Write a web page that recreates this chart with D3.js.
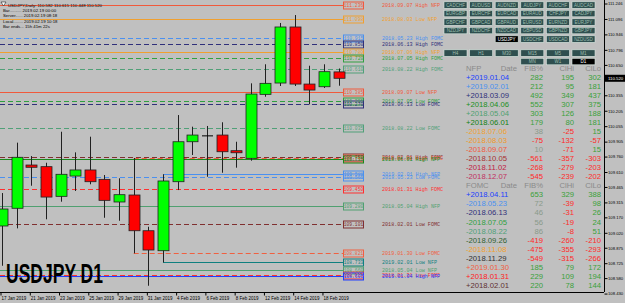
<!DOCTYPE html>
<html>
<head>
<meta charset="utf-8">
<script src="https://cdn.jsdelivr.net/npm/d3@7"></script>
<style>
  body { margin: 0; background: #c0c0c0; }
  svg { display: block; }
  text { font-family: "Liberation Sans", sans-serif; }
  .mono { font-family: "Liberation Mono", "DejaVu Sans Mono", monospace; }
</style>
</head>
<body>
<div id="app"></div>
<script>
const WIDTH = 625;
const HEIGHT = 303;
const PLOT_RIGHT = 604;
const PLOT_BOTTOM = 292;

// daily bars
const dates = ['17 Jan 2019', '18 Jan 2019', '21 Jan 2019', '22 Jan 2019', '23 Jan 2019', '24 Jan 2019',
  '25 Jan 2019', '28 Jan 2019', '29 Jan 2019', '30 Jan 2019', '31 Jan 2019', '1 Feb 2019',
  '4 Feb 2019', '5 Feb 2019', '6 Feb 2019', '7 Feb 2019', '8 Feb 2019', '11 Feb 2019',
  '12 Feb 2019', '13 Feb 2019', '14 Feb 2019', '15 Feb 2019', '18 Feb 2019', '19 Feb 2019'];
const open  = [109.086, 109.258, 109.678, 109.662, 109.374, 109.571, 109.630, 109.539, 109.319, 109.387, 109.040, 108.846,
  109.516, 109.904, 109.966, 109.969, 109.817, 109.743, 110.364, 110.474, 111.018, 110.464, 110.438, 110.582];
const high  = [109.406, 109.895, 109.765, 109.700, 110.001, 109.801, 109.953, 109.581, 109.549, 109.746, 109.079, 109.588,
  110.163, 110.050, 110.057, 110.093, 109.904, 110.471, 110.656, 111.057, 111.134, 110.642, 110.656, 110.615];
const low   = [108.700, 109.063, 109.477, 109.151, 109.322, 109.426, 109.491, 109.166, 109.137, 108.821, 108.506, 108.733,
  109.435, 109.775, 109.564, 109.603, 109.652, 109.720, 110.341, 110.445, 110.445, 110.267, 110.426, 110.448];
const close = [109.251, 109.753, 109.656, 109.367, 109.588, 109.630, 109.516, 109.335, 109.390, 109.040, 108.853, 109.523,
  109.904, 109.969, 109.966, 109.807, 109.797, 110.367, 110.471, 111.018, 110.464, 110.406, 110.584, 110.520];

const dateTicks = ['17 Jan 2019', '21 Jan 2019', '23 Jan 2019', '25 Jan 2019', '29 Jan 2019', '31 Jan 2019',
  '4 Feb 2019', '6 Feb 2019', '8 Feb 2019', '12 Feb 2019', '14 Feb 2019', '18 Feb 2019'];
const priceTicks = [111.246, 111.096, 110.946, 110.796, 110.650, 110.355, 110.205, 110.055, 109.905, 109.760,
  109.610, 109.465, 109.315, 109.170, 109.020, 108.875, 108.725, 108.580, 108.430];
const lastPrice = 110.520;

// event levels
const levelLabels = ['2018.09.07 High NFP', '2018.08.03 Low NFP', '2018.05.23 High FOMC', '2018.06.13 High FOMC',
  '2018.07.06 High NFP', '2018.07.05 High FOMC', '2018.08.22 High FOMC', '2018.09.07 Low NFP',
  '2018.07.05 Low FOMC', '2018.06.13 Low FOMC', '2018.08.22 Low FOMC', '2018.02.01 High FOMC',
  '2019.01.30 High FOMC', '2018.06.01 High NFP', '2019.02.01 High NFP', '2018.05.23 Low FOMC',
  '2018.01.31 High FOMC', '2018.05.04 High NFP', '2018.02.01 Low FOMC', '2019.01.30 Low FOMC',
  '2019.02.01 Low NFP', '2018.05.04 Low NFP', '2018.01.31 Low FOMC', '2019.01.04 High NFP'];
const levelPrices = [111.236, 111.098, 110.915, 110.850, 110.780, 110.720, 110.610, 110.385,
  110.295, 110.270, 110.035, 109.753, 109.746, 109.735, 109.588, 109.565,
  109.450, 109.280, 109.101, 108.821, 108.733, 108.660, 108.615, 108.605];
const levelColors = ['#f05a3c', '#f0a030', '#4a90f0', '#30307a', '#f0a030', '#30a040', '#50a078', '#f05a3c',
  '#30a040', '#30307a', '#50a078', '#803030', '#f06040', '#1a8a1a', '#4a90f0', '#4a90f0',
  '#ff3030', '#50a070', '#803030', '#f06040', '#108080', '#50a070', '#ff3030', '#2040ff'];
const eventBars = { '2019.01.30': '30 Jan 2019', '2019.02.01': '1 Feb 2019' };

// stats table
const nfpDates = ['+2019.01.04', '+2019.02.01', '+2018.03.09', '+2018.04.06', '+2018.05.04', '+2018.06.01',
  '-2018.07.06', '-2018.08.03', '-2018.09.07', '-2018.10.05', '-2018.11.02', '-2018.12.07'];
const nfpFib  = [282, 212, 492, 552, 303, 179, 38, -75, 10, -561, -268, -545];
const nfpClHi = [195, 95, 349, 307, 126, 80, -25, -132, -71, -357, -279, -239];
const nfpClLo = [302, 181, 437, 375, 188, 181, 15, -57, 15, -303, -203, -202];
const nfpColors = ['#2040ff', '#4a90f0', '#30307a', '#209020', '#50a070', '#108010',
  '#f0a030', '#f09828', '#f05a3c', '#a83030', '#c02040', '#c03060'];

const fomcDates = ['+2018.04.11', '-2018.05.23', '-2018.06.13', '-2018.07.05', '-2018.08.22', '-2018.09.26',
  '-2018.11.08', '-2018.11.29', '+2019.01.30', '+2018.01.31', '+2018.02.01'];
const fomcFib  = [653, 72, 46, 56, 86, -419, -475, -549, 185, 229, 220];
const fomcClHi = [329, -39, -31, -19, -8, -260, -355, -315, 79, 109, 78];
const fomcClLo = [388, 98, 26, 24, 51, -210, -293, -266, 172, 194, 144];
const fomcColors = ['#2040ff', '#4a90f0', '#30307a', '#30a040', '#50a078', '#306030',
  '#f0a030', '#303030', '#f06040', '#ff2020', '#603030'];

// buttons
const symbolRows = [
  ['CADCHF', 'AUDUSD', 'AUDNZD', 'AUDJPY', 'AUDCHF', 'AUDCAD'],
  ['EURGBP', 'EURCHF', 'EURCAD', 'EURAUD', 'CHFJPY', 'CADJPY'],
  ['GBPCHF', 'GBPCAD', 'GBPAUD', 'EURUSD', 'EURNZD', 'EURJPY'],
  ['NZDJPY', 'NZDCHF', 'NZDCAD', 'GBPUSD', 'GBPNZD', 'GBPJPY'],
  ['', '', 'USDJPY', 'USDCHF', 'USDCAD', 'NZDUSD']
];
const periodRows = [
  ['H4', 'H1', 'M30', 'M15', 'M5', 'M1'],
  ['', '', '', 'MN', 'W1', 'D1']
];

const svg = d3.select('#app').append('svg')
  .attr('width', WIDTH)
  .attr('height', HEIGHT);

svg.append('rect').attr('width', WIDTH).attr('height', HEIGHT).attr('fill', '#c0c0c0');

const x = d3.scalePoint().domain(dates).range([2, 338.6]);
const y = d3.scaleLinear().domain([108.455, 111.28]).range([291, 0]);

svg.append('clipPath').attr('id', 'plot')
  .append('rect').attr('width', PLOT_RIGHT).attr('height', PLOT_BOTTOM);
const plot = svg.append('g').attr('clip-path', 'url(#plot)');

// level lines, boxes and captions
const levels = levelLabels.map((label, i) => ({
  label,
  price: levelPrices[i],
  color: levelColors[i],
  dashed: label.includes('FOMC'),
  start: eventBars[label.slice(0, 10)]
}));

const BOX_X = 343;
plot.selectAll('.level')
  .data(levels)
  .enter()
    .append('line')
    .attr('x1', d => d.start ? x(d.start) : 0)
    .attr('x2', BOX_X)
    .attr('y1', d => Math.round(y(d.price)) + 0.5)
    .attr('y2', d => Math.round(y(d.price)) + 0.5)
    .attr('stroke', d => d.color)
    .attr('stroke-width', 1)
    .attr('stroke-dasharray', d => d.dashed ? '5,3' : null);

plot.selectAll('.lbox')
  .data(levels)
  .enter()
    .append('rect')
    .attr('x', BOX_X + 0.5)
    .attr('y', d => Math.round(y(d.price)) - 3)
    .attr('width', 20)
    .attr('height', 7)
    .attr('fill', 'none')
    .attr('stroke', d => d.color);

plot.selectAll('.lval')
  .data(levels)
  .enter()
    .append('text')
    .attr('class', 'mono')
    .attr('x', BOX_X + 10.5)
    .attr('y', d => Math.round(y(d.price)) + 2.2)
    .attr('text-anchor', 'middle')
    .attr('font-size', 4.6)
    .attr('fill', d => d.color)
    .text(d => d.price.toFixed(3));

plot.selectAll('.lcap')
  .data(levels)
  .enter()
    .append('text')
    .attr('class', 'mono')
    .attr('x', 382)
    .attr('y', d => Math.round(y(d.price)) + 2.2)
    .attr('font-size', 5.1)
    .attr('fill', d => d.color)
    .text(d => d.label);

// candles
const bars = dates.map((d, i) => ({ d, o: open[i], h: high[i], l: low[i], c: close[i] }));
plot.selectAll('.wick')
  .data(bars)
  .enter()
    .append('line')
    .attr('x1', d => Math.round(x(d.d)) + 0.5)
    .attr('x2', d => Math.round(x(d.d)) + 0.5)
    .attr('y1', d => y(d.h))
    .attr('y2', d => y(d.l))
    .attr('stroke', '#202020');

plot.selectAll('.body')
  .data(bars)
  .enter()
    .append('rect')
    .attr('x', d => Math.round(x(d.d)) - 5)
    .attr('width', 11)
    .attr('y', d => y(Math.max(d.o, d.c)))
    .attr('height', d => Math.max(1, Math.abs(y(d.o) - y(d.c))))
    .attr('fill', d => d.c > d.o ? '#00ff00' : d.c < d.o ? '#ff0000' : '#000')
    .attr('stroke', d => d.c === d.o ? 'none' : '#202020')
    .attr('stroke-width', 0.8);

// big symbol caption
svg.append('text')
  .attr('x', 6)
  .attr('y', 283)
  .attr('font-family', '"Liberation Sans Narrow", "Liberation Sans", sans-serif')
  .attr('font-weight', 'bold')
  .attr('font-size', 27)
  .attr('textLength', 97)
  .attr('lengthAdjust', 'spacingAndGlyphs')
  .attr('fill', '#000')
  .text('USDJPY D1');

// info block
svg.append('path').attr('d', 'M1,2 L6,2 L3.5,6 Z').attr('fill', '#fff').attr('stroke', '#000').attr('stroke-width', 0.5);
const info = [
  'USDJPY,Daily:  110.582 110.615 110.448 110.520',
  'Bar.......... 2019.02.19 00:00',
  'Server...... 2019.02.19 08:18',
  'Local........ 2019.02.19 10:18',
  'Bar ends... 15h 41m 22s'
];
svg.selectAll('.info')
  .data(info)
  .enter()
    .append('text')
    .attr('x', (d, i) => i === 0 ? 8 : 3)
    .attr('y', (d, i) => [6.5, 12, 17, 23, 28][i])
    .attr('font-size', 4.3)
    .attr('fill', '#000')
    .text(d => d);

// axes
const yAxis = d3.axisRight(y).tickValues(priceTicks).tickSize(3).tickFormat(d3.format('.3f'));
svg.append('g')
  .attr('transform', `translate(${PLOT_RIGHT + 0.5},0)`)
  .call(yAxis)
  .call(g => g.select('.domain').attr('d', `M0,0V${PLOT_BOTTOM}`))
  .call(g => g.selectAll('text').attr('x', 3.5).attr('font-size', 4.2).attr('font-family', '"Liberation Sans", sans-serif'));

const xAxis = d3.axisBottom(x).tickValues(dateTicks).tickSize(3);
svg.append('g')
  .attr('transform', `translate(0,${PLOT_BOTTOM + 0.5})`)
  .call(xAxis)
  .call(g => g.select('.domain').attr('d', `M0,0H${PLOT_RIGHT}`))
  .call(g => g.selectAll('.tick line').attr('transform', 'translate(-1.5,0)'))
  .call(g => g.selectAll('text')
    .attr('text-anchor', 'start')
    .attr('x', -1)
    .attr('y', 3)
    .attr('dy', '0.9em')
    .attr('font-size', 4.5)
    .attr('font-family', '"Liberation Sans", sans-serif'));

// last price marker
const lp = svg.append('g').attr('transform', `translate(${PLOT_RIGHT + 1},${y(lastPrice)})`);
lp.append('rect').attr('x', 0).attr('y', -3.5).attr('width', 21).attr('height', 7).attr('fill', '#000');
lp.append('text').attr('x', 3).attr('y', 1.6).attr('font-size', 4.3).attr('fill', '#fff').text(lastPrice.toFixed(3));

// buttons
const BTN_X = 444, BTN_STEP = 25.6, BTN_W = 23, BTN_H = 6.5;
function drawButtons(rows, top, active) {
  const cells = [];
  rows.forEach((row, r) => row.forEach((name, c) => {
    if (name) cells.push({ name, r, c });
  }));
  const g = svg.append('g').attr('transform', `translate(0,${top})`);
  const b = g.selectAll('g').data(cells).enter().append('g')
    .attr('transform', d => `translate(${BTN_X + d.c * BTN_STEP},${d.r * 8.5})`);
  b.append('rect')
    .attr('width', BTN_W).attr('height', BTN_H)
    .attr('fill', d => d.name === active ? '#000' : '#2f4f4f')
    .attr('stroke', '#d8e8e0').attr('stroke-width', 0.6);
  b.append('text')
    .attr('x', BTN_W / 2).attr('y', BTN_H / 2 + 1.6)
    .attr('text-anchor', 'middle')
    .attr('font-size', 4.5)
    .attr('fill', d => d.name === active ? '#fff' : '#9fbfb0')
    .text(d => d.name);
}
drawButtons(symbolRows, 1.8, 'USDJPY');
drawButtons(periodRows, 49.8, 'D1');

// stats table
const ROW0 = 68.3, ROW_STEP = 9.03;
const COLS = { date: 466, dateEnd: 517, fib: 543, hi: 574, lo: 601 };
const numColor = (v, isFib) => v < 0 ? '#ff2a2a' : (isFib && v <= 100 ? '#8a9a8a' : '#3aa03a');

function section(title, start, names, fib, hi, lo, colors) {
  const hy = ROW0 + start * ROW_STEP + 2.7;
  const hdr = svg.append('g').attr('class', 'mono').attr('font-size', 7.7).attr('fill', '#8a8a8a');
  hdr.append('text').attr('x', COLS.date).attr('y', hy).text(title);
  hdr.append('text').attr('x', COLS.dateEnd).attr('y', hy).attr('text-anchor', 'end').text('Date');
  hdr.append('text').attr('x', COLS.fib).attr('y', hy).attr('text-anchor', 'end').text('FIB%');
  hdr.append('text').attr('x', COLS.hi).attr('y', hy).attr('text-anchor', 'end').text('ClHi');
  hdr.append('text').attr('x', COLS.lo).attr('y', hy).attr('text-anchor', 'end').text('ClLo');

  const rows = names.map((n, i) => ({ n, f: fib[i], h: hi[i], l: lo[i], color: colors[i], yy: ROW0 + (start + 1 + i) * ROW_STEP + 2.7 }));
  const g = svg.append('g').attr('class', 'mono').attr('font-size', 7.7);
  const r = g.selectAll('g').data(rows).enter().append('g');
  r.append('text').attr('x', COLS.date).attr('y', d => d.yy).attr('fill', d => d.color).text(d => d.n);
  r.append('text').attr('x', COLS.fib).attr('y', d => d.yy).attr('text-anchor', 'end')
    .attr('fill', d => numColor(d.f, true)).text(d => d.f);
  r.append('text').attr('x', COLS.hi).attr('y', d => d.yy).attr('text-anchor', 'end')
    .attr('fill', d => numColor(d.h, false)).text(d => d.h);
  r.append('text').attr('x', COLS.lo).attr('y', d => d.yy).attr('text-anchor', 'end')
    .attr('fill', d => numColor(d.l, false)).text(d => d.l);
}
section('NFP', 0, nfpDates, nfpFib, nfpClHi, nfpClLo, nfpColors);
section('FOMC', 13, fomcDates, fomcFib, fomcClHi, fomcClLo, fomcColors);
</script>
</body>
</html>
